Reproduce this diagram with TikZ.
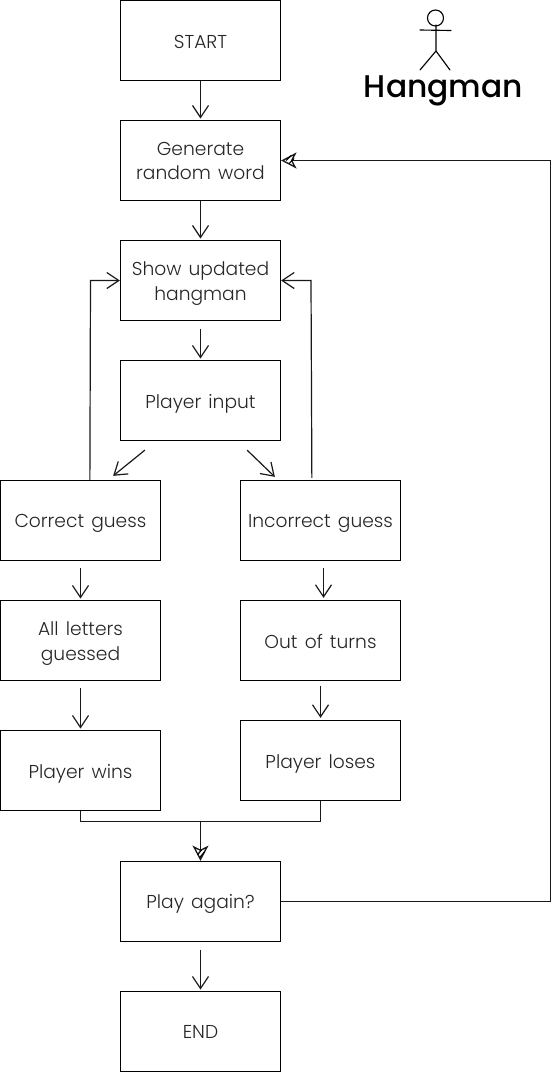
\documentclass[tikz,border=0pt]{standalone}
\usepackage{fontspec}
\setmainfont{Poppins Light}[WordSpace=1.4]
\newfontfamily\titlefont{Poppins Medium}
\usetikzlibrary{arrows.meta,calc}
\tikzset{
  x=0.75pt,y=-0.75pt,
  flowbox/.style={draw=black,line width=0.95pt,minimum width=120pt,minimum height=60pt,inner sep=0pt},
  boxtext/.style={inner sep=0pt,align=center,font=\fontsize{14}{18.5}\selectfont,text=black!85},
  lbl/.style n args={2}{label={[boxtext,yshift=-#1*0.75pt]center:{#2}}},
  link/.style={draw=black!90,line width=0.9pt,-{Straight Barb[length=9pt,width=12pt,line width=0.9pt]}},
  linkopen/.style={draw=black!90,line width=0.9pt,-{Stealth[open,length=11.5pt,width=12pt,inset=3pt,line width=1pt,fill=white]}},
  plainlink/.style={draw=black!90,line width=0.9pt},
  hatch/.style={draw=black,line width=0.9pt},
  stick/.style={draw=black,line width=0.85pt,line cap=round},
}
\begin{document}
\begin{tikzpicture}
\useasboundingbox (0,0) rectangle (552,1072);
\node[flowbox,lbl={1}{START}] (start) at (200.5,40.5) {};
\node[flowbox,lbl={0.5}{Generate\\random word}] (gen) at (200.5,160.5) {};
\node[flowbox,lbl={3}{Show updated\\hangman}] (show) at (200.5,280.5) {};
\node[flowbox,lbl={3}{Player input}] (input) at (200.5,400.5) {};
\node[flowbox,lbl={3}{Correct guess}] (correct) at (80.5,520.5) {};
\node[flowbox,lbl={3}{Incorrect guess}] (incorrect) at (320.5,520.5) {};
\node[flowbox,lbl={3}{All letters\\guessed}] (letters) at (80.5,640.5) {};
\node[flowbox,lbl={1}{Out of turns}] (out) at (320.5,640.5) {};
\node[flowbox,lbl={3}{Player wins}] (wins) at (80.5,770.5) {};
\node[flowbox,lbl={3}{Player loses}] (loses) at (320.5,760.5) {};
\node[flowbox,lbl={2}{Play again?}] (again) at (200.5,901.5) {};
\node[flowbox,lbl={0}{END}] (end) at (200.5,1031.5) {};
\draw[link,shorten >=1pt] (start) -- (gen);
\draw[link,shorten >=1pt] (gen) -- (show);
\draw[link,shorten <=6pt,shorten >=1pt] (show) -- (input);
\draw[link] ($(input.south west)+(25,9)$) -- ($(correct.north east)+(-48,-4)$);
\draw[link] ($(input.south east)+(-34,9)$) -- ($(incorrect.north west)+(35,-3)$);
\draw[link] ($(correct.north west)+(90,0)$) -- (90.5,280.5) -- (show.west);
\draw[link] ($(incorrect.north west)+(72,-2)$) -- (311,280.5) -- (show.east);
\draw[link,shorten <=5pt,shorten >=1pt] (correct) -- (letters);
\draw[link] ($(incorrect.south)+(3,7)$) -- ($(out.north)+(3,-2)$);
\draw[link,shorten <=5pt,shorten >=1pt] (letters) -- (wins);
\draw[link] ($(out.south)+(0,5)$) -- ($(loses.north)+(0,-2)$);
\coordinate (join) at (200.5,821.5);
\draw[plainlink] (wins.south) |- (join);
\draw[plainlink] (loses.south) |- (join);
\draw[linkopen] (join) -- (again.north);
\draw[linkopen] (again.east) -- (550.5,901.5) -- (550.5,160.5) -- (gen.east);
\draw[hatch] ($(gen.east)+(5,0)$) -- ($(gen.east)+(10,-5)$);
\draw[hatch] ($(gen.east)+(8,3)$) -- ($(gen.east)+(13,-2)$);
\draw[hatch] ($(again.north)+(-1,-3)$) -- ($(again.north)+(4,-9)$);
\draw[hatch] ($(again.north)+(-3,-6)$) -- ($(again.north)+(1,-11)$);
\draw[link,shorten <=6pt,shorten >=1pt] (again) -- (end);
\draw[stick] (435.5,18) circle[radius=8];
\draw[stick] (420,30) -- (451,30.5);
\draw[stick] (436,25) -- (436,51) -- (420,70);
\draw[stick] (436,51) -- (450,70);
\node[font=\titlefont\fontsize{23.5}{28}\selectfont,inner sep=0pt] (title) at (443.5,91) {Hangman};
\end{tikzpicture}
\end{document}
